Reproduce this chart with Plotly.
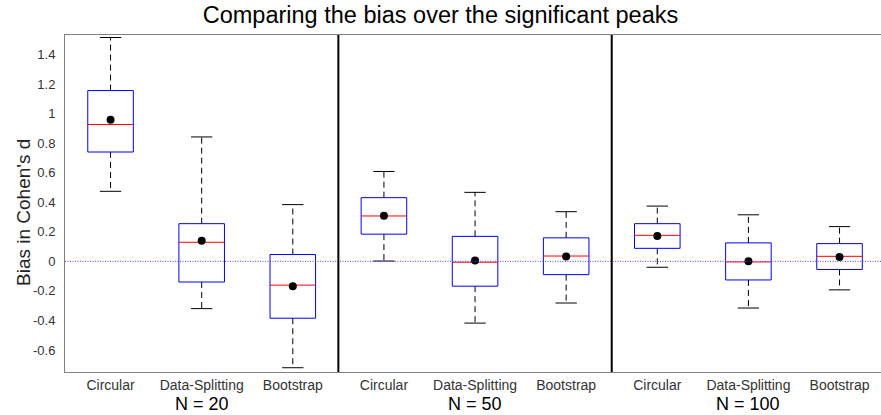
import plotly.graph_objects as go

# ---- data ----
methods = ["Circular", "Data-Splitting", "Bootstrap"]
group_labels = ["N = 20", "N = 50", "N = 100"]
upper_whisker = [1.515, 0.842, 0.384, 0.608, 0.467, 0.336, 0.374, 0.315, 0.235]
q3 = [1.156, 0.255, 0.046, 0.431, 0.169, 0.159, 0.255, 0.125, 0.120]
median = [0.926, 0.129, -0.161, 0.307, -0.006, 0.036, 0.176, -0.004, 0.034]
q1 = [0.740, -0.140, -0.385, 0.184, -0.168, -0.090, 0.088, -0.126, -0.055]
lower_whisker = [0.474, -0.320, -0.720, 0.002, -0.418, -0.282, -0.040, -0.316, -0.193]
mean = [0.958, 0.140, -0.168, 0.308, 0.005, 0.032, 0.171, 0.0, 0.029]
y_tick_vals = [-0.6, -0.4, -0.2, 0, 0.2, 0.4, 0.6, 0.8, 1, 1.2, 1.4]
y_tick_text = ["-0.6", "-0.4", "-0.2", "0", "0.2", "0.4", "0.6", "0.8", "1", "1.2", "1.4"]

# ---- layout helpers ----
n = len(median)
pos = list(range(1, n + 1))
cat_text = methods * len(group_labels)
box_half = 0.25
cap_half = 0.117

wx, wy, cx, cy, bx, by, mx, my = [], [], [], [], [], [], [], []
for i, p in enumerate(pos):
    wx += [p, p, None, p, p, None]
    wy += [q3[i], upper_whisker[i], None, q1[i], lower_whisker[i], None]
    cx += [p - cap_half, p + cap_half, None, p - cap_half, p + cap_half, None]
    cy += [upper_whisker[i], upper_whisker[i], None, lower_whisker[i], lower_whisker[i], None]
    bx += [p - box_half, p + box_half, p + box_half, p - box_half, p - box_half, None]
    by += [q1[i], q1[i], q3[i], q3[i], q1[i], None]
    mx += [p - box_half, p + box_half, None]
    my += [median[i], median[i], None]

fig = go.Figure()
fig.add_trace(go.Scatter(x=wx, y=wy, mode="lines",
                         line=dict(color="black", width=1, dash="6px,4px"),
                         hoverinfo="skip", showlegend=False))
fig.add_trace(go.Scatter(x=cx, y=cy, mode="lines",
                         line=dict(color="black", width=1),
                         hoverinfo="skip", showlegend=False))
fig.add_trace(go.Scatter(x=bx, y=by, mode="lines",
                         line=dict(color="#0000ff", width=1),
                         hoverinfo="skip", showlegend=False))
fig.add_trace(go.Scatter(x=mx, y=my, mode="lines",
                         line=dict(color="#ff0000", width=1),
                         hoverinfo="skip", showlegend=False))
fig.add_trace(go.Scatter(x=pos, y=mean, mode="markers",
                         marker=dict(color="black", size=8),
                         showlegend=False))

# zero reference line
fig.add_shape(type="line", xref="paper", yref="y", x0=0, x1=1, y0=0, y1=0,
              line=dict(color="#4a4aff", width=1, dash="1px,1.5px"))
# group separators
for k in range(1, len(group_labels)):
    xs = 3 * k + 0.5
    fig.add_shape(type="line", xref="x", yref="paper", x0=xs, x1=xs, y0=0, y1=1,
                  line=dict(color="black", width=2))

# group labels
for g, lab in enumerate(group_labels):
    fig.add_annotation(x=3 * g + 2, y=0, xref="x", yref="paper", text=lab,
                       showarrow=False, yanchor="top", yshift=-21, borderpad=0,
                       font=dict(size=18, color="black"))

# y-axis title
fig.add_annotation(x=(23 - 65) / 816, y=(415 - 43 - 213) / 337, xref="paper", yref="paper",
                   text="Bias in Cohen's d", textangle=-90, showarrow=False,
                   xanchor="center", yanchor="middle",
                   font=dict(size=19, color="#222222"))

fig.update_layout(
    width=881, height=415, autosize=False,
    margin=dict(l=65, r=0, t=35, b=43),
    paper_bgcolor="white", plot_bgcolor="white",
    font=dict(family="Liberation Sans, Arial, sans-serif", color="#333333"),
    title=dict(text="Comparing the bias over the significant peaks",
               x=0.5, xref="container", y=1 - 15 / 415, yref="container",
               xanchor="center", yanchor="middle",
               font=dict(size=23.5, color="black")),
    xaxis=dict(range=[0.5, 9.455], tickvals=pos, ticktext=cat_text,
               showgrid=False, zeroline=False, showline=True, mirror=True,
               linecolor="#808080", linewidth=1, ticks="",
               tickfont=dict(size=14, color="#333333")),
    yaxis=dict(range=[-0.749, 1.532], tickvals=y_tick_vals, ticktext=y_tick_text,
               showgrid=False, zeroline=False, showline=True, mirror=True,
               linecolor="#808080", linewidth=1, ticks="", ticklabelstandoff=6,
               tickfont=dict(size=13, color="#333333")),
    showlegend=False,
)

fig.write_html("out.html")
